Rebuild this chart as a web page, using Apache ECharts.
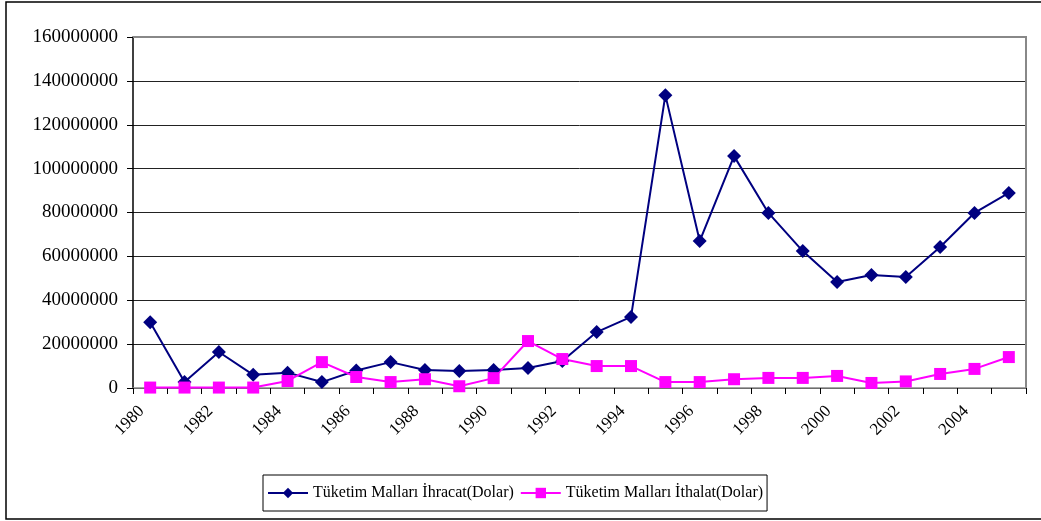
<!DOCTYPE html>
<html>
<head>
<meta charset="utf-8">
<script src="https://cdn.jsdelivr.net/npm/echarts@6/dist/echarts.min.js"></script>
<style>
  html, body { margin: 0; padding: 0; background: #fff; }
  #main { width: 1041px; height: 521px; }
</style>
</head>
<body>
<div id="main"></div>
<script>
// years on the category axis
const years = [];
for (let y = 1980; y <= 2005; y++) years.push(String(y));

// Tüketim Malları İhracat (Dolar)
const ihracat = [
  30000000, 2700000, 16400000, 6000000, 7000000, 2700000, 8000000, 11800000,
  8200000, 7700000, 8200000, 9100000, 12300000, 25500000, 32400000, 133500000,
  67000000, 105700000, 79800000, 62400000, 48300000, 51500000, 50600000,
  64300000, 79800000, 88900000
];

// Tüketim Malları İthalat (Dolar)
const ithalat = [
  200000, 200000, 200000, 200000, 3200000, 11800000, 5000000, 2700000,
  4000000, 800000, 4500000, 21400000, 13200000, 10000000, 10000000, 2700000,
  2700000, 4000000, 4600000, 4600000, 5500000, 2300000, 3000000, 6400000,
  8700000, 14100000
];

const yTicks = { min: 0, max: 160000000, interval: 20000000 };

const serif = "'Liberation Serif', 'DejaVu Serif', serif";

const options = {
  animation: false,
  backgroundColor: "#fff",
  graphic: [
    {
      type: "rect",
      shape: { x: 6, y: 2, width: 1100, height: 517 },
      style: { fill: "none", stroke: "#000", lineWidth: 1.5 },
      silent: true
    },
    {
      type: "polyline",
      shape: { points: [[133, 37], [1026, 37], [1026, 388]] },
      style: { stroke: "#888", lineWidth: 2, fill: null },
      silent: true,
      z: 10
    }
  ],
  grid: { left: 133, right: 15, top: 37, bottom: 133 },
  legend: {
    left: 263,
    top: 475,
    padding: [10, 4, 10, 4],
    borderColor: "#000",
    borderWidth: 1,
    itemWidth: 40,
    itemHeight: 13,
    itemGap: 6,
    textStyle: { fontFamily: serif, fontSize: 16, color: "#000" },
    data: ["Tüketim Malları İhracat(Dolar)", "Tüketim Malları İthalat(Dolar)"]
  },
  xAxis: {
    type: "category",
    data: years,
    boundaryGap: true,
    axisLine: { lineStyle: { color: "#888", width: 1.5 } },
    axisTick: { show: true, length: 6, lineStyle: { color: "#000" }, interval: 0 },
    axisLabel: {
      interval: 1,
      rotate: 45,
      fontFamily: serif,
      fontSize: 17,
      color: "#000",
      margin: 12,
      padding: [0, 12, 0, 0]
    },
    splitLine: { show: false }
  },
  yAxis: {
    type: "value",
    min: yTicks.min,
    max: yTicks.max,
    interval: yTicks.interval,
    axisLine: { show: true, lineStyle: { color: "#000", width: 1.5 } },
    axisTick: { show: true, length: 6, lineStyle: { color: "#000" } },
    axisLabel: {
      fontFamily: serif,
      fontSize: 19,
      color: "#000",
      margin: 15,
      formatter: (v) => String(v)
    },
    splitLine: { show: true, lineStyle: { color: "#222", width: 1 } }
  },
  series: [
    {
      name: "Tüketim Malları İhracat(Dolar)",
      type: "line",
      data: ihracat,
      symbol: "diamond",
      symbolSize: 14,
      color: "#000080",
      lineStyle: { color: "#000080", width: 2 },
      itemStyle: { color: "#000080" }
    },
    {
      name: "Tüketim Malları İthalat(Dolar)",
      type: "line",
      data: ithalat,
      symbol: "rect",
      symbolSize: 12,
      color: "#ff00ff",
      lineStyle: { color: "#ff00ff", width: 2 },
      itemStyle: { color: "#ff00ff" }
    }
  ]
};

const myChart = echarts.init(document.querySelector("#main"));
myChart.setOption(options);
</script>
</body>
</html>
